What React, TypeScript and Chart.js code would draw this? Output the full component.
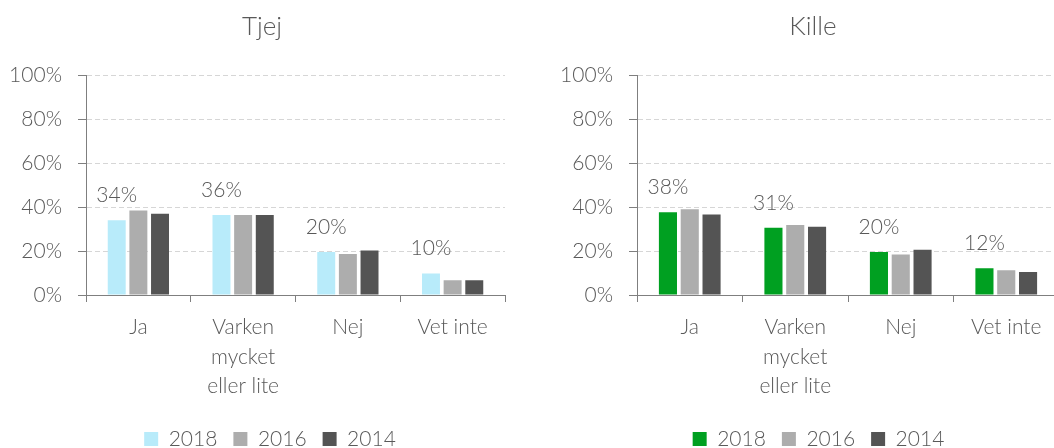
import React, { useEffect, useRef } from "react";
import { Chart, registerables } from "chart.js";

Chart.register(...registerables);

const categories: (string | string[])[] = ["Ja", ["Varken", "mycket", "eller lite"], "Nej", "Vet inte"];
const years = ["2018", "2016", "2014"];
const yTicks = [0, 20, 40, 60, 80, 100];

const tjej2018 = [34, 36.4, 19.6, 9.8];
const tjej2016 = [38.5, 36.4, 18.7, 6.7];
const tjej2014 = [37, 36.4, 20.2, 6.7];

const kille2018 = [37.6, 30.6, 19.6, 12.2];
const kille2016 = [39, 31.8, 18.4, 11.3];
const kille2014 = [36.6, 31.1, 20.6, 10.5];

const TEXT = "#595959";
const AXIS = "#7f7f7f";
const GRID = "#d6d6d6";
const FAMILY = "Lato, 'Open Sans', sans-serif";

type Spec = {
  title: string;
  values: number[][];
  colors: string[];
  padRight: number;
  titleDx: number;
  legendDx: number;
};

function makeChart(canvas: HTMLCanvasElement, spec: Spec) {
  const dataLabels = {
    id: "dataLabels",
    afterDatasetsDraw(chart: any) {
      const ctx = chart.ctx;
      const meta = chart.getDatasetMeta(0);
      const vals = chart.data.datasets[0].data as number[];
      ctx.save();
      ctx.font = `300 21px ${FAMILY}`;
      ctx.fillStyle = TEXT;
      ctx.textAlign = "center";
      ctx.textBaseline = "middle";
      meta.data.forEach((bar: any, i: number) => {
        ctx.fillText(Math.round(vals[i]) + "%", bar.x, bar.y - 25);
      });
      ctx.restore();
    },
  };
  const boxShift = {
    id: "boxShift",
    afterLayout(chart: any) {
      const l = chart.legend;
      if (l) {
        l.left += spec.legendDx;
        l.right += spec.legendDx;
        l.top += 11.5;
        l.bottom += 11.5;
      }
      const t = chart.titleBlock;
      if (t) {
        t.left += spec.titleDx;
        t.right += spec.titleDx;
      }
    },
  };
  return new Chart(canvas, {
    type: "bar",
    data: {
      labels: categories as any,
      datasets: years.map((y, i) => ({
        label: y,
        data: spec.values[i],
        backgroundColor: spec.colors[i],
        borderWidth: 0,
        categoryPercentage: 0.62,
        barPercentage: 0.83,
      })),
    },
    options: {
      animation: false,
      responsive: false,
      layout: { padding: { left: 0, right: spec.padRight, top: 0, bottom: 0 } },
      plugins: {
        title: {
          display: true,
          text: spec.title,
          color: TEXT,
          font: { family: FAMILY, size: 26, weight: "300" as any, lineHeight: 1.2 },
          padding: { top: 11, bottom: 33 },
        },
        legend: {
          position: "bottom",
          labels: {
            color: TEXT,
            font: { family: FAMILY, size: 21, weight: "300" as any },
            boxWidth: 14,
            boxHeight: 14,
            padding: 16,
          },
        },
        tooltip: { enabled: false },
      },
      scales: {
        x: {
          grid: {
            display: true,
            drawOnChartArea: false,
            drawTicks: true,
            tickLength: 7,
            color: AXIS,
            tickColor: AXIS,
            offset: true,
          },
          border: { display: true, color: AXIS, width: 1 },
          ticks: {
            color: TEXT,
            font: { family: FAMILY, size: 21, weight: "300" as any, lineHeight: 1.4 },
            padding: 11,
            maxRotation: 0,
            autoSkip: false,
          },
          afterFit: (s: any) => {
            s.height = 106;
          },
        },
        y: {
          min: 0,
          max: 100,
          afterBuildTicks: (s: any) => {
            s.ticks = yTicks.map((v) => ({ value: v }));
          },
          ticks: {
            color: TEXT,
            font: { family: FAMILY, size: 21, weight: "300" as any },
            padding: 16,
            callback: (v: any) => v + "%",
          },
          grid: {
            color: GRID,
            lineWidth: 1,
            drawTicks: true,
            tickLength: 8,
            tickColor: AXIS,
            tickWidth: 1,
            tickBorderDash: [],
          } as any,
          border: { display: true, color: AXIS, width: 1, dash: [5, 3] },
          afterFit: (s: any) => {
            s.width = 86;
          },
        },
      },
    },
    plugins: [dataLabels, boxShift],
  });
}

export default function App() {
  const leftRef = useRef<HTMLCanvasElement>(null);
  const rightRef = useRef<HTMLCanvasElement>(null);

  useEffect(() => {
    const c1 = makeChart(leftRef.current!, {
      title: "Tjej",
      values: [tjej2018, tjej2016, tjej2014],
      colors: ["#b8ebfa", "#adadad", "#545454"],
      padRight: 19,
      titleDx: 9.5,
      legendDx: 17.5,
    });
    const c2 = makeChart(rightRef.current!, {
      title: "Kille",
      values: [kille2018, kille2016, kille2014],
      colors: ["#00a021", "#adadad", "#545454"],
      padRight: 16,
      titleDx: 8,
      legendDx: 13.5,
    });
    return () => {
      c1.destroy();
      c2.destroy();
    };
  }, []);

  return (
    <div
      style={{
        position: "fixed",
        left: 0,
        top: 0,
        width: 1054,
        height: 448,
        overflow: "hidden",
        background: "#fff",
      }}
    >
      <canvas ref={leftRef} width={524} height={448} style={{ position: "absolute", left: 0, top: 0 }} />
      <canvas ref={rightRef} width={524} height={448} style={{ position: "absolute", left: 551, top: 0 }} />
    </div>
  );
}
